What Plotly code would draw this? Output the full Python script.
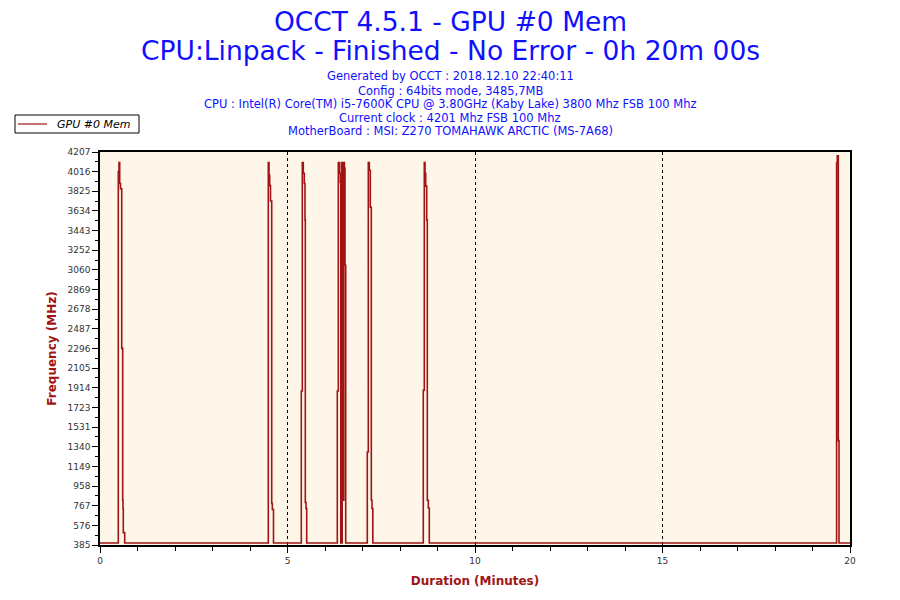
import plotly.graph_objects as go

# sampled GPU memory clock (step points), minutes / MHz
minutes = [
    0.0,
    0.488, 0.507, 0.525, 0.547, 0.579, 0.605, 0.613, 0.621, 0.659,
    4.488, 4.507, 4.525, 4.547, 4.579, 4.595, 4.627,
    5.368, 5.395, 5.421, 5.448, 5.467, 5.475, 5.493, 5.512,
    6.328, 6.355, 6.381, 6.408, 6.421, 6.437, 6.448, 6.459, 6.469, 6.480,
    6.491, 6.501, 6.517, 6.533, 6.552,
    7.128, 7.155, 7.181, 7.208, 7.235, 7.253, 7.275,
    8.621, 8.648, 8.667, 8.685, 8.712, 8.728, 8.755, 8.781,
    19.643, 19.661, 19.688, 19.707,
    20.0,
]
mem_mhz = [
    405,
    4016, 4104, 3900, 3850, 2297, 820, 740, 505, 405,
    4104, 3980, 3880, 3730, 790, 730, 405,
    1882, 4104, 4000, 3900, 3544, 800, 740, 405,
    1882, 4104, 4000, 3910, 405, 4104, 405, 4016, 820, 4104,
    820, 4104, 4050, 3106, 405,
    1290, 4104, 4030, 3670, 820, 740, 405,
    1890, 4104, 4000, 3875, 3544, 820, 745, 405,
    4100, 4170, 1400, 405,
    405,
]

y_min, y_max = 385, 4207
y_labels = ["385", "576", "767", "958", "1149", "1340", "1531", "1723", "1914", "2105",
            "2296", "2487", "2678", "2869", "3060", "3252", "3443", "3634", "3825", "4016", "4207"]
x_ticks = [0, 5, 10, 15, 20]

title_lines = ["OCCT 4.5.1 - GPU #0 Mem", "CPU:Linpack - Finished - No Error - 0h 20m 00s"]
info_lines = [
    "Generated by OCCT : 2018.12.10 22:40:11",
    "Config : 64bits mode, 3485,7MB",
    "CPU : Intel(R) Core(TM) i5-7600K CPU @ 3.80GHz (Kaby Lake) 3800 Mhz FSB 100 Mhz",
    "Current clock : 4201 Mhz FSB 100 Mhz",
    "MotherBoard : MSI: Z270 TOMAHAWK ARCTIC (MS-7A68)",
]
series_name = "GPU #0 Mem"

RED = "#a01414"
BLUE = "#1010ff"
W, H = 900, 600
PLOT_LEFT, PLOT_RIGHT = 100, 850
PLOT_TOP, PLOT_BOTTOM = 152, 545


def py(pixel_y):
    # page pixel -> paper y
    return (PLOT_BOTTOM - pixel_y) / (PLOT_BOTTOM - PLOT_TOP)


def px(pixel_x):
    return (pixel_x - PLOT_LEFT) / (PLOT_RIGHT - PLOT_LEFT)


step = (y_max - y_min) / (len(y_labels) - 1)
y_vals = [y_min + i * step for i in range(len(y_labels))]

fig = go.Figure()
fig.add_trace(go.Scatter(
    x=minutes, y=mem_mhz, mode="lines", line_shape="hv",
    line=dict(color=RED, width=1.6), name=series_name, showlegend=False,
))

annotations = []
for txt, ypx in zip(title_lines, [21, 50]):
    annotations.append(dict(text=txt, x=px(450), xref="paper", y=py(ypx), yref="paper",
                            xanchor="center", yanchor="middle", showarrow=False,
                            font=dict(family="DejaVu Sans", size=26.5, color=BLUE)))
for txt, ypx in zip(info_lines, [76, 91, 104, 118, 131]):
    annotations.append(dict(text=txt, x=px(450), xref="paper", y=py(ypx), yref="paper",
                            xanchor="center", yanchor="middle", showarrow=False,
                            font=dict(family="DejaVu Sans", size=11.5, color=BLUE)))
# legend box, drawn by hand so it keeps the small OCCT size
annotations.append(dict(text="<i>" + series_name + "</i>", x=px(55), xref="paper",
                        y=py(124), yref="paper", xanchor="left", yanchor="middle",
                        showarrow=False, font=dict(family="DejaVu Sans", size=11, color="black")))
shapes = [
    dict(type="rect", xref="paper", yref="paper", x0=px(15), x1=px(139), y0=py(115), y1=py(133),
         line=dict(color="black", width=1), fillcolor="white", layer="above"),
    dict(type="line", xref="paper", yref="paper", x0=px(18), x1=px(47), y0=py(124), y1=py(124),
         line=dict(color=RED, width=1.2)),
]

fig.update_layout(
    width=W, height=H,
    margin=dict(l=PLOT_LEFT, r=W - PLOT_RIGHT, t=PLOT_TOP, b=H - PLOT_BOTTOM, autoexpand=False),
    paper_bgcolor="white", plot_bgcolor="#fdf6e9",
    annotations=annotations, shapes=shapes,
    showlegend=False,
    font=dict(family="DejaVu Sans", size=9, color="#333333"),
)

fig.update_xaxes(
    range=[0, 20], tickvals=x_ticks, ticks="outside", ticklen=6, tickcolor="black",
    minor=dict(dtick=1, ticks="outside", ticklen=4, tickcolor="black"),
    showline=True, linecolor="black", linewidth=1.5, mirror=True,
    showgrid=True, gridcolor="black", griddash="dot", gridwidth=1,
    zeroline=False,
    title=dict(text="<b>Duration (Minutes)</b>", font=dict(size=12, color=RED), standoff=12),
)
fig.update_yaxes(
    range=[y_min, y_max], tickvals=y_vals, ticktext=y_labels,
    ticks="outside", ticklen=6, tickcolor="black",
    minor=dict(tickvals=[v + step / 2 for v in y_vals[:-1]], ticks="outside",
               ticklen=3, tickcolor="black"),
    showline=True, linecolor="black", linewidth=1.5, mirror=True,
    showgrid=False, zeroline=False,
    title=dict(text="<b>Frequency (MHz)</b>", font=dict(size=12, color=RED), standoff=8),
)

# drop the default 8px body margin so the figure sits at the page corner
fig.write_html("out.html", config={"displayModeBar": False},
               post_script="document.body.style.margin = '0';")
